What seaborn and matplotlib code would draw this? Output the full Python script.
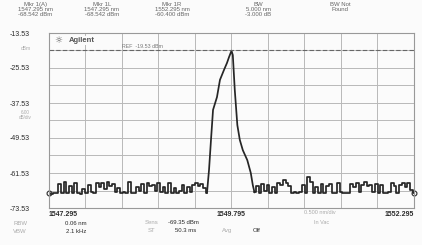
import numpy as np
import pandas as pd
import seaborn as sns
import matplotlib.pyplot as plt

# ======================
# Data
# ======================

wl_start = 1547.295
wl_center = 1549.795
wl_stop = 1552.295

y_ticks = [-13.53, -25.53, -37.53, -49.53, -61.53, -73.53]
ref_level = -19.53

# noise floor left of the peak (dBm)
noise_left = [-68.5, -68.6, -68.4, -68.5, -65.2, -68.3, -64.6, -68.4, -66.0, -68.5,
              -65.1, -68.3, -68.6, -67.0, -68.4, -65.5, -68.2, -68.5, -64.8, -66.2,
              -65.0, -67.1, -64.6, -66.0, -65.3, -68.1, -66.8, -68.4, -68.0, -68.5,
              -64.5, -68.3, -68.5, -66.5, -67.8, -65.4, -68.4, -64.9, -66.1, -65.5,
              -67.6, -65.0, -68.2, -66.3, -68.4, -64.9, -68.3, -66.8, -68.5, -67.6,
              -65.7, -68.3, -66.2, -68.1, -65.8, -64.9, -66.0, -65.2, -66.6, -68.4]

# the signal peak
peak_wl = [1549.459, 1549.487, 1549.514, 1549.542, 1549.596, 1549.637, 1549.692,
           1549.733, 1549.761, 1549.795, 1549.813, 1549.840, 1549.875, 1549.909,
           1549.950, 1550.011, 1550.059, 1550.087, 1550.110]
peak_db = [-68.4, -60.5, -50.2, -39.9, -35.5, -29.6, -26.2,
           -23.8, -21.8, -19.6, -21.1, -33.1, -45.1, -50.2,
           -53.7, -57.1, -61.5, -65.7, -68.2]

# noise floor right of the peak (dBm)
noise_right = [-68.2, -66.0, -68.4, -65.4, -67.8, -65.8, -68.3, -66.5, -68.5, -64.8,
               -65.6, -63.8, -64.9, -66.1, -68.3, -67.9, -68.5, -68.2, -65.7, -68.4,
               -62.9, -64.6, -68.3, -66.4, -68.5, -65.2, -68.4, -66.0, -65.4, -68.3,
               -68.5, -64.9, -68.2, -68.5, -68.4, -68.3, -65.2, -66.3, -64.9, -68.2,
               -65.6, -64.7, -66.0, -65.8, -68.1, -65.3, -68.4, -65.7, -68.5, -68.3,
               -68.2, -64.8, -66.1, -68.4, -65.6, -65.0, -66.3, -65.1, -67.5, -68.5]

left_df = pd.DataFrame({
    "wl": np.linspace(wl_start, 1549.459, len(noise_left)),
    "dbm": noise_left
})
peak_df = pd.DataFrame({"wl": peak_wl, "dbm": peak_db})
right_df = pd.DataFrame({
    "wl": np.linspace(1550.110, wl_stop, len(noise_right)),
    "dbm": noise_right
})

# ======================
# Plot
# ======================

sns.set_style("white")
plt.rcParams['font.family'] = ['Liberation Sans', 'DejaVu Sans']

dark = "#2a2a2a"
faint = "#aaaaaa"

fig = plt.figure(figsize=(4.22, 2.45), dpi=100, facecolor="#fbfbfb")
ax = fig.add_axes([49/422, 37/245, 365/422, 175/245])
ax.set_facecolor("#fbfbfb")

trace_kw = dict(color="#262626", linewidth=1.25, ax=ax)
sns.lineplot(data=left_df, x="wl", y="dbm", drawstyle="steps-mid", **trace_kw)
sns.lineplot(data=peak_df, x="wl", y="dbm", **trace_kw)
sns.lineplot(data=right_df, x="wl", y="dbm", drawstyle="steps-mid", **trace_kw)

# end markers
ax.plot([wl_start], [noise_left[0]], marker="o", mfc="none", mec=dark, ms=3.5, mew=0.8,
        clip_on=False)
ax.plot([wl_stop], [noise_right[-1]], marker="o", mfc="none", mec=dark, ms=3.5, mew=0.8,
        clip_on=False)

ax.set_xlim(wl_start, wl_stop)
ax.set_ylim(y_ticks[-1], y_ticks[0])

ax.set_xticks([wl_start, wl_center, wl_stop])
ax.set_xticklabels(["1547.295", "1549.795", "1552.295"], fontsize=5, color=dark, fontweight="bold")
labs = ax.get_xticklabels()
labs[0].set_ha("left")
labs[2].set_ha("right")
ax.set_xticks(np.arange(wl_start, wl_stop + 0.01, 0.5), minor=True)

ax.set_yticks(y_ticks)
ax.set_yticklabels([f"{v:.2f}" for v in y_ticks], fontsize=5, color=dark)
ax.set_yticks(np.arange(y_ticks[-1], y_ticks[0] + 0.1, 6.0), minor=True)
ax.tick_params(which="both", length=0)
ax.tick_params(axis="y", pad=14)
ax.tick_params(axis="x", pad=2)

ax.grid(True, which="both", color="#b8b8b8", linewidth=0.7)
for s in ax.spines.values():
    s.set_color("#999999")
    s.set_linewidth(0.8)

ax.set_xlabel("")
ax.set_ylabel("")

# reference line
ax.axhline(ref_level, color="#666666", linewidth=0.8, linestyle=(0, (4, 2)))
ax.text(1548.30, ref_level + 0.6, "REF  -19.53 dBm", fontsize=3.8, color="#777777", va="bottom")

# Agilent badge
ax.text(1547.37, -16.1, "\u263c", fontsize=6.5, color="#555555", va="center",
        family=["DejaVu Sans"], bbox=dict(fc="#fbfbfb", ec="none", pad=0.5))
ax.text(1547.56, -16.1, "Agilent", fontsize=5.5, color="#555555", va="center",
        fontweight="bold", bbox=dict(fc="#fbfbfb", ec="none", pad=0.8))

# left faint unit labels
fig.text(26/422, 1 - 49/245, "dBm", fontsize=3.5, color=faint, ha="center", va="center")
fig.text(25/422, 1 - 115/245, "6.00\ndB/div", fontsize=3.3, color=faint, ha="center",
         va="center", linespacing=1.0)

# header markers
header = [
    (35, "Mkr 1(A)\n1547.295 nm\n-68.542 dBm"),
    (102, "Mkr 1L\n1547.295 nm\n-68.542 dBm"),
    (172, "Mkr 1R\n1552.295 nm\n-60.400 dBm"),
    (258, "BW\n5.000 nm\n-3.000 dB"),
    (340, "BW Not\nFound"),
]
for x, txt in header:
    fig.text(x/422, 1 - 2/245, txt, fontsize=4.3, color="#666666", ha="center",
             va="top", linespacing=0.95)

# bottom status area
fig.text(320/422, 1 - 212/245, "0.500 nm/div", fontsize=4, color=faint, ha="center", va="center")
fig.text(322/422, 1 - 222/245, "In Vac", fontsize=4, color=faint, ha="center", va="center")

status = [
    (20, 223, "RBW", faint), (76, 223, "0.06 nm", dark),
    (20, 231, "VBW", faint), (76, 231, "2.1 kHz", dark),
    (152, 222, "Sens", faint), (183, 222, "-69.35 dBm", dark),
    (152, 230, "ST", faint), (186, 230, "50.3 ms", dark),
    (227, 230, "Avg", faint), (257, 230, "Off", dark),
]
for x, y, txt, col in status:
    fig.text(x/422, 1 - y/245, txt, fontsize=4.3, color=col, ha="center", va="center")

plt.savefig("out.png", dpi=100, facecolor=fig.get_facecolor())
plt.close()
